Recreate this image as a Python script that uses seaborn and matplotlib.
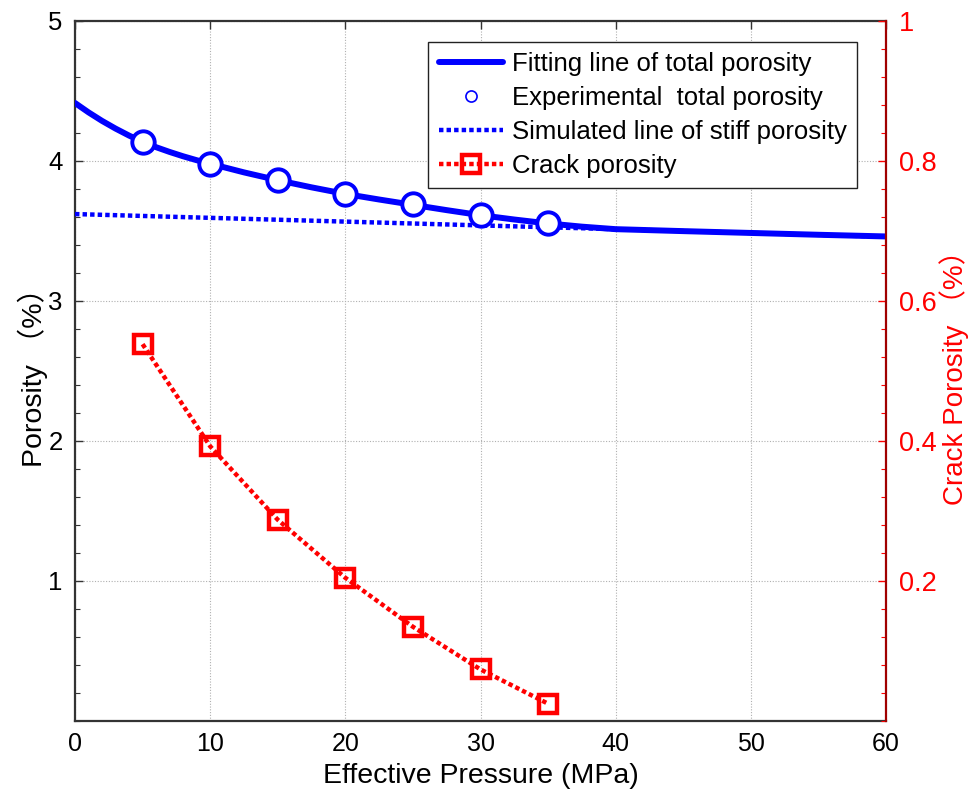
import matplotlib
matplotlib.use("Agg")
import matplotlib.pyplot as plt
import numpy as np
import pandas as pd
import seaborn as sns
from matplotlib.lines import Line2D
from matplotlib.ticker import MultipleLocator

# Measured points
pressure_exp = [5, 10, 15, 20, 25, 30, 35]
total_exp = [4.136, 3.980, 3.862, 3.764, 3.689, 3.612, 3.553]
crack_exp = [0.538, 0.392, 0.287, 0.204, 0.134, 0.073, 0.024]

# Fitted total porosity curve
fit_pressure = [0, 1, 2, 3, 4, 5, 6, 7, 8, 9, 10, 12.5, 15, 17.5, 20, 22.5,
                25, 27.5, 30, 32.5, 35, 37.5, 40, 45, 50, 55, 60]
fit_total = [4.414, 4.347, 4.286, 4.231, 4.181, 4.136, 4.098, 4.064, 4.033,
             4.005, 3.980, 3.918, 3.862, 3.811, 3.764, 3.724, 3.686, 3.648,
             3.612, 3.581, 3.553, 3.530, 3.512, 3.498, 3.485, 3.472, 3.460]

# Simulated stiff porosity
stiff_pressure = [0, 10, 20, 30, 40, 50, 60]
stiff_total = [3.620, 3.593, 3.566, 3.539, 3.512, 3.485, 3.458]

x_ticks = [0, 10, 20, 30, 40, 50, 60]
left_ticks = [1, 2, 3, 4, 5]
right_ticks = [0.2, 0.4, 0.6, 0.8, 1.0]
right_tick_labels = ["0.2", "0.4", "0.6", "0.8", "1"]

sns.set_style("white")
FONT = ["Liberation Sans", "Noto Sans CJK SC", "DejaVu Sans"]
plt.rcParams["font.family"] = FONT
plt.rcParams["text.color"] = "black"
plt.rcParams["axes.labelcolor"] = "black"
plt.rcParams["xtick.color"] = "black"
plt.rcParams["ytick.color"] = "black"

BLUE = "#0000ff"
RED = "#ff0000"

fig = plt.figure(figsize=(9.72, 7.95), dpi=100)
ax = fig.add_axes([75 / 972, 1 - 720.5 / 795, (886 - 75) / 972, (720.5 - 21) / 795])
ax2 = ax.twinx()

fit_df = pd.DataFrame({"p": fit_pressure, "phi": fit_total})
stiff_df = pd.DataFrame({"p": stiff_pressure, "phi": stiff_total})
exp_df = pd.DataFrame({"p": pressure_exp, "phi": total_exp, "crack": crack_exp})

sns.lineplot(data=fit_df, x="p", y="phi", ax=ax, color=BLUE, lw=4.3,
             sort=False, estimator=None, zorder=3)
sns.lineplot(data=stiff_df, x="p", y="phi", ax=ax, color=BLUE, lw=3.2,
             linestyle=(0, (1, 0.7)), sort=False, estimator=None, zorder=3)
sns.scatterplot(data=exp_df, x="p", y="phi", ax=ax, marker="o", s=260,
                facecolor="white", edgecolor=BLUE, linewidth=2.8, zorder=4)
sns.lineplot(data=exp_df, x="p", y="crack", ax=ax2, color=RED, lw=3.2,
             linestyle=(0, (1, 0.7)), marker="s", markersize=13,
             markerfacecolor="none", markeredgecolor=RED, markeredgewidth=3.2,
             sort=False, estimator=None, zorder=3)

ax.set_xlim(0, 60)
ax.set_ylim(0, 5)
ax2.set_ylim(0, 1)
ax.set_xticks(x_ticks)
ax.set_yticks(left_ticks)
ax.yaxis.set_minor_locator(MultipleLocator(0.2))
ax2.set_yticks(right_ticks)
ax2.set_yticklabels(right_tick_labels)
ax2.yaxis.set_minor_locator(MultipleLocator(0.04))

ax.grid(True, which="major", color="#b0b0b0", linestyle=(0, (1, 1.5)), lw=0.8)
ax.set_axisbelow(True)

ax.tick_params(axis="x", which="major", direction="in", length=6,
               labelsize=18, width=1, color="#333333", top=True, pad=8)
ax.tick_params(axis="y", which="major", direction="in", length=6,
               labelsize=18.5, width=1, color="#333333", right=False, pad=9)
ax.tick_params(axis="y", which="minor", direction="in", length=3.5,
               width=0.8, color="#333333")
ax2.tick_params(axis="y", which="major", direction="in", length=6,
                labelsize=19.5, width=1, color=RED, labelcolor=RED, pad=9)
ax2.tick_params(axis="y", which="minor", direction="in", length=3.5,
                width=0.8, color=RED)

for name in ["left", "bottom", "top"]:
    ax.spines[name].set_color("#333333")
    ax.spines[name].set_linewidth(1.6)
    ax2.spines[name].set_visible(False)
ax.spines["right"].set_visible(False)
ax2.spines["right"].set_color("#a00000")
ax2.spines["right"].set_linewidth(1.6)

ax.set_xlabel("Effective Pressure (MPa)", fontsize=20.5, labelpad=5)
ax.set_ylabel("Porosity （%）", fontsize=20.5, labelpad=0)
ax2.set_ylabel("Crack Porosity （%）", fontsize=20, color=RED, labelpad=2)

handles = [
    Line2D([], [], color=BLUE, lw=4.3),
    Line2D([], [], color=BLUE, lw=0, marker="o", markersize=8,
           markerfacecolor="white", markeredgecolor=BLUE, markeredgewidth=1.2),
    Line2D([], [], color=BLUE, lw=3.2, linestyle=(0, (1, 0.7))),
    Line2D([], [], color=RED, lw=3.2, linestyle=(0, (1, 0.7)), marker="s",
           markersize=13, markerfacecolor="none", markeredgecolor=RED,
           markeredgewidth=3.2),
]
labels = ["Fitting line of total porosity", "Experimental  total porosity",
          "Simulated line of stiff porosity", "Crack porosity"]
leg = ax2.legend(handles, labels, loc="upper right",
                 bbox_to_anchor=(857 / 972, 1 - 42 / 795),
                 bbox_transform=fig.transFigure, borderaxespad=0,
                 fontsize=18.5, frameon=True, fancybox=False, framealpha=1,
                 edgecolor="#222222", handlelength=2.5, handletextpad=0.35,
                 labelspacing=0.38, borderpad=0.4)
leg.get_frame().set_linewidth(1.0)

fig.savefig("out.png", dpi=100, facecolor="white")
